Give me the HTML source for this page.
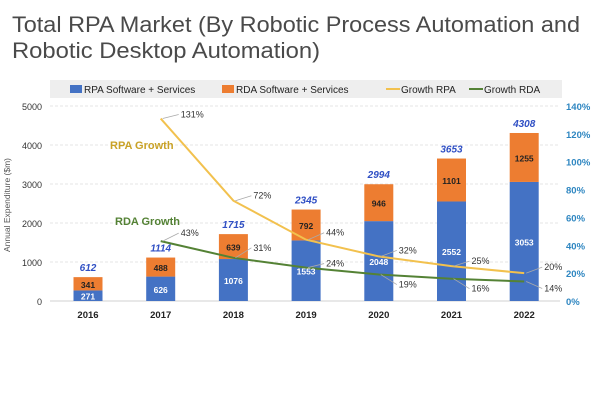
<!DOCTYPE html>
<html><head><meta charset="utf-8"><style>
body{margin:0;background:#fff;}
svg{display:block;font-family:"Liberation Sans",sans-serif;}
</style></head><body>
<svg id="chart" width="600" height="400" viewBox="0 0 600 400">
<text x="12" y="32" font-size="22" fill="#4a4a4a" textLength="568" lengthAdjust="spacingAndGlyphs">Total RPA Market (By Robotic Process Automation and</text>
<text x="12" y="58" font-size="22" fill="#4a4a4a" textLength="308" lengthAdjust="spacingAndGlyphs">Robotic Desktop Automation)</text>
<g>
<rect x="50" y="80" width="512" height="18" fill="#eeeeee"/>
<rect x="70" y="85" width="12" height="8" fill="#4472c4"/>
<text x="84" y="93" font-size="10" fill="#222">RPA Software + Services</text>
<rect x="222" y="85" width="12" height="8" fill="#ed7d31"/>
<text x="236" y="93" font-size="10" fill="#222">RDA Software + Services</text>
<line x1="386" y1="89" x2="400" y2="89" stroke="#f2c14e" stroke-width="2"/>
<text x="401" y="93" font-size="10" fill="#222">Growth RPA</text>
<line x1="469" y1="89" x2="483" y2="89" stroke="#548235" stroke-width="2"/>
<text x="484" y="93" font-size="10" fill="#222">Growth RDA</text>
</g>
<text transform="translate(10,205) rotate(-90)" text-anchor="middle" font-size="8.5" fill="#555">Annual Expenditure ($m)</text>
<g id="grid"></g><g id="bars"></g><g id="lines"></g><g id="labels"></g>
<text x="110" y="149" font-size="11" font-weight="bold" fill="#c9a227">RPA Growth</text>
<text x="115" y="225" font-size="11" font-weight="bold" fill="#548235">RDA Growth</text>
</svg>
<script>
const years=["2016","2017","2018","2019","2020","2021","2022"];
const rpaVals=[271,626,1076,1553,2048,2552,3053];
const rdaVals=[341,488,639,792,946,1101,1255];
const totals=[612,1114,1715,2345,2994,3653,4308];
const growthRPA=[null,131,72,44,32,25,20];
const growthRDA=[null,43,31,24,19,16,14];
const leftTicks=[0,1000,2000,3000,4000,5000];
const rightTicks=[0,20,40,60,80,100,120,140];

const NS="http://www.w3.org/2000/svg";
const y0=301,yTop=106;
const yL=v=>y0-(v/5000)*(y0-yTop);
const yR=v=>y0-(v/140)*(y0-yTop);
const xC=i=>88+i*72.7;
function mk(tag,attrs,parent,txt){const e=document.createElementNS(NS,tag);for(const k in attrs)e.setAttribute(k,attrs[k]);if(txt!==undefined)e.textContent=txt;document.getElementById(parent).appendChild(e);return e;}

leftTicks.forEach(t=>{
  const l=mk('line',{x1:50,x2:560,y1:yL(t),y2:yL(t),stroke:t===0?'#d0d0d0':'#e6e6e6','stroke-width':1,'stroke-dasharray':t===0?'':'3,2'},'grid');
  
  
  const tx=mk('text',{x:42,y:yL(t)+4,'text-anchor':'end','font-size':9,fill:'#333'},'grid',String(t));
  
  
});
rightTicks.forEach(t=>{
  const tx=mk('text',{x:566,y:yR(t)+4,'font-size':9.5,'font-weight':'bold',fill:'#2e86c1'},'grid',t+'%');
  
  
});
years.forEach((y,i)=>{
  const x=xC(i),w=29;
  const b1=mk('rect',{x:x-w/2,y:yL(rpaVals[i]),width:w,height:y0-yL(rpaVals[i]),fill:'#4472c4'},'bars');
  
  
  const b2=mk('rect',{x:x-w/2,y:yL(rpaVals[i]+rdaVals[i]),width:w,height:yL(rpaVals[i])-yL(rpaVals[i]+rdaVals[i]),fill:'#ed7d31'},'bars');
  
  
  const t1=mk('text',{x:x,y:(yL(rpaVals[i])+y0)/2+4,'text-anchor':'middle','font-size':8.5,'font-weight':'bold',fill:'#fff'},'labels',String(rpaVals[i]));
  
  
  const t2=mk('text',{x:x,y:(yL(rpaVals[i])+yL(rpaVals[i]+rdaVals[i]))/2+4,'text-anchor':'middle','font-size':8.5,'font-weight':'bold',fill:'#222'},'labels',String(rdaVals[i]));
  
  
  const t3=mk('text',{x:x,y:yL(totals[i])-6,'text-anchor':'middle','font-size':10,'font-weight':'bold','font-style':'italic',fill:'#2f4fc4'},'labels',String(totals[i]));
  
  
  const tx=mk('text',{x:x,y:318,'text-anchor':'middle','font-size':9.5,'font-weight':'bold',fill:'#222'},'labels',y);
  
  
});
function series(arr,color,name,dirs){
  const pts=[];arr.forEach((v,i)=>{if(v!==null)pts.push([xC(i),yR(v),v]);});
  const pl=mk('polyline',{points:pts.map(p=>p[0]+','+p[1]).join(' '),fill:'none',stroke:color,'stroke-width':2},'lines');
  
  
  pts.forEach((p,k)=>{
    const dy=dirs[k], dx=18;
    const ll=mk('line',{x1:p[0]+2,y1:p[1],x2:p[0]+dx,y2:p[1]+dy,stroke:'#aaa','stroke-width':0.8},'labels');
    
    
    const t=mk('text',{x:p[0]+dx+2,y:p[1]+dy+3,'font-size':9,fill:'#333'},'labels',p[2]+'%');
    
    
  });
}
series(growthRPA,'#f2c14e','line-growth-rpa',[-4,-5,-7,-6,-5,-6]);
series(growthRDA,'#548235','line-growth-rda',[-8,-10,-4,10,10,7]);
</script>
</body></html>
